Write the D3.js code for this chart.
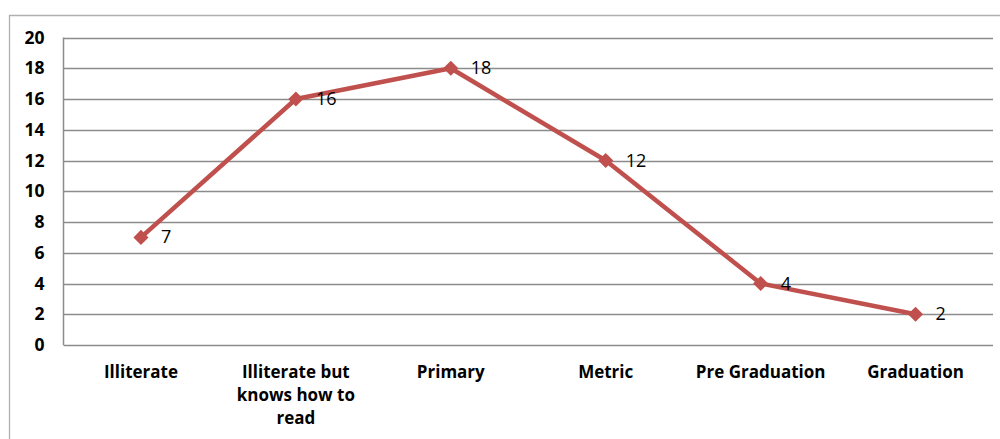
<!DOCTYPE html>
<html>
<head>
<meta charset="utf-8">
<script src="https://cdn.jsdelivr.net/npm/d3@7/dist/d3.min.js"></script>
<style>
  html, body { margin: 0; padding: 0; background: #fff; }
  svg { display: block; }
  text { font-family: "Open Sans", Lato, sans-serif; }
</style>
</head>
<body>
<svg id="chart" width="1000" height="439"></svg>
<script>
// Education level counts
const categories = [
  ["Illiterate"],
  ["Illiterate but", "knows how to", "read"],
  ["Primary"],
  ["Metric"],
  ["Pre Graduation"],
  ["Graduation"]
];
const values = [7, 16, 18, 12, 4, 2];
const yTicks = [0, 2, 4, 6, 8, 10, 12, 14, 16, 18, 20];

const svg = d3.select("#chart");
const W = 1000, H = 439;
const plot = { left: 63.5, right: 993, top: 37.5, bottom: 345 };

// outer frame (left and top edges)
svg.append("path")
  .attr("d", `M9.5,${H} V15.5 H${W}`)
  .attr("fill", "none").attr("stroke", "#b0b0b0").attr("stroke-width", 1.3);

const x = d3.scaleBand()
  .domain(d3.range(categories.length))
  .range([plot.left, plot.right])
  .padding(0);
const y = d3.scaleLinear().domain([0, 20]).range([plot.bottom, plot.top]);

// horizontal gridlines
svg.append("g").selectAll("line").data(yTicks).join("line")
  .attr("x1", plot.left).attr("x2", plot.right)
  .attr("y1", d => Math.round(y(d)) + 0.5).attr("y2", d => Math.round(y(d)) + 0.5)
  .attr("stroke", "#8c8c8c").attr("stroke-width", 1.5);

// vertical axis line
svg.append("line")
  .attr("x1", plot.left).attr("x2", plot.left)
  .attr("y1", y(20)).attr("y2", y(0))
  .attr("stroke", "#8c8c8c").attr("stroke-width", 1.5);

// y tick labels
const yAxis = d3.axisLeft(y).tickValues(yTicks).tickSize(0).tickPadding(19);
const gy = svg.append("g").attr("transform", `translate(${plot.left},0)`).call(yAxis);
gy.select(".domain").remove();
gy.selectAll("text")
  .attr("font-family", "'Open Sans', Lato, sans-serif")
  .attr("font-size", 17.5).attr("font-weight", "bold").attr("fill", "#000");

// category labels
const cx = i => x(i) + x.bandwidth() / 2;
const catG = svg.append("g");
categories.forEach((lines, i) => {
  const t = catG.append("text")
    .attr("x", cx(i)).attr("y", 378)
    .attr("text-anchor", "middle")
    .attr("font-size", 17).attr("font-weight", "bold").attr("fill", "#000");
  lines.forEach((ln, j) => {
    t.append("tspan").attr("x", cx(i)).attr("dy", j === 0 ? 0 : 23).text(ln);
  });
});

// series line
const line = d3.line().x((d, i) => cx(i)).y(d => y(d));
svg.append("path").datum(values)
  .attr("d", line)
  .attr("fill", "none").attr("stroke", "#c0504d").attr("stroke-width", 4.5)
  .attr("stroke-linejoin", "round");

// diamond markers
svg.append("g").selectAll("path").data(values).join("path")
  .attr("transform", (d, i) => `translate(${cx(i)},${y(d)})`)
  .attr("d", d3.symbol().type(d3.symbolDiamond2).size(145))
  .attr("fill", "#c0504d");

// data labels
svg.append("g").selectAll("text").data(values).join("text")
  .attr("x", (d, i) => cx(i) + 20)
  .attr("y", d => y(d) + 6)
  .attr("font-size", 18).attr("fill", "#000")
  .text(d => d);
</script>
</body>
</html>
